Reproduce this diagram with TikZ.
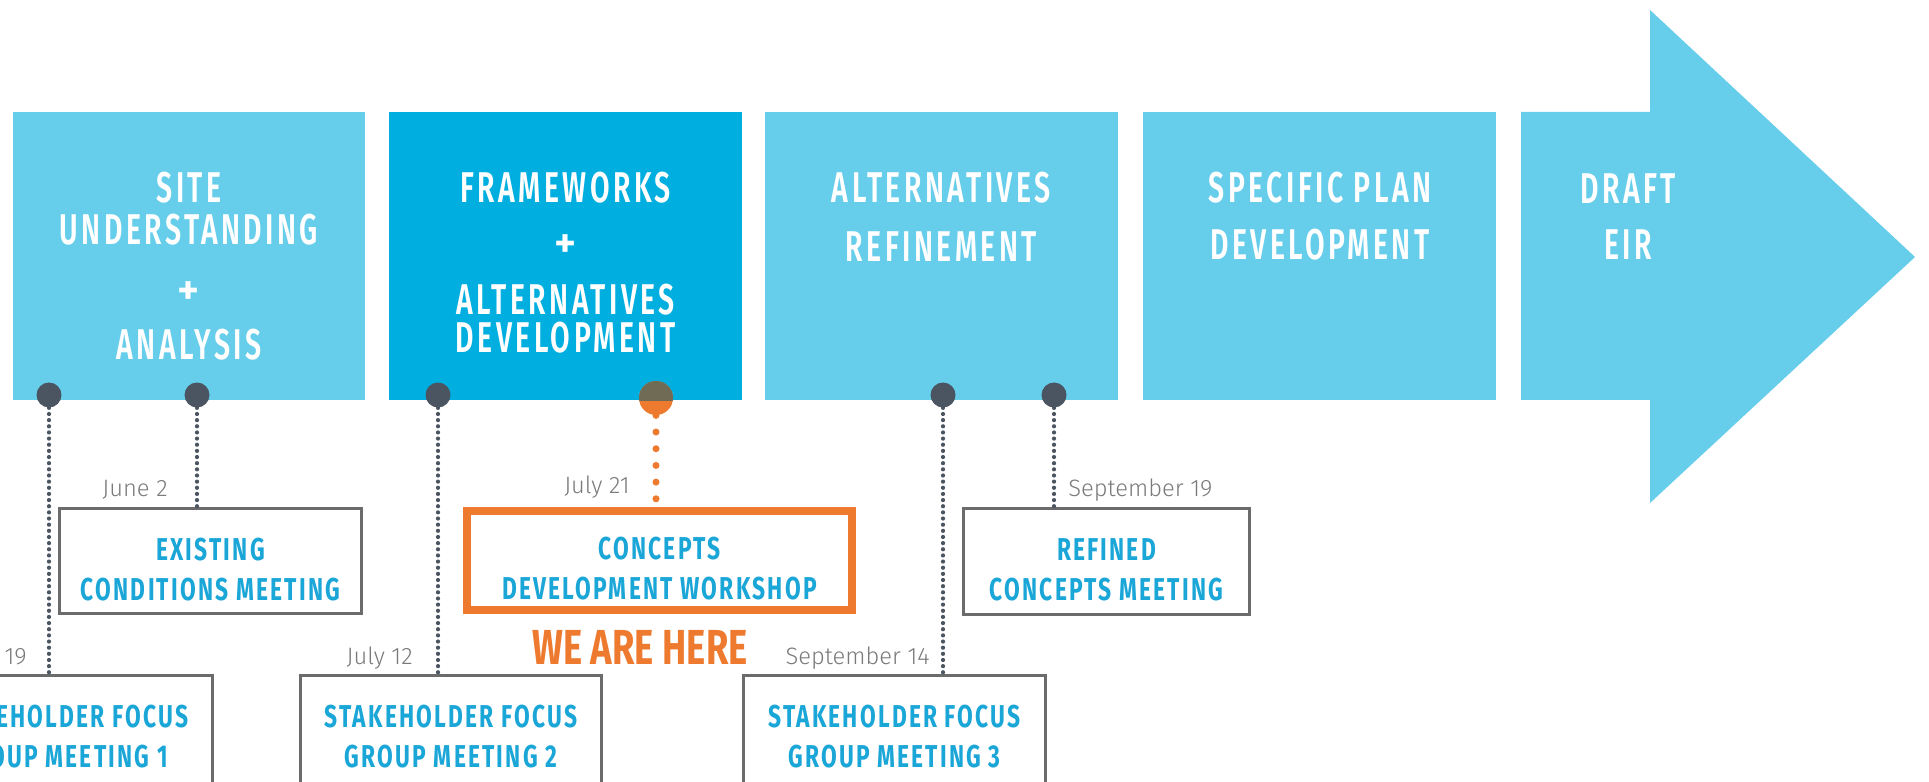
\documentclass[tikz,border=0pt]{standalone}
\usepackage{fontspec}
\setmainfont{Fira Sans}
\newfontfamily\phasefont[FakeStretch=0.66,LetterSpace=8]{Fira Sans SemiBold}
\newfontfamily\plusfont{Fira Sans SemiBold}
\newfontfamily\meetfont[FakeStretch=0.72,LetterSpace=7]{Fira Sans Bold}
\newfontfamily\herefont[FakeStretch=0.74]{Fira Sans Bold}
\newfontfamily\datefont{Fira Sans Light}
\usepackage{xcolor}
\usetikzlibrary{positioning, calc}

\definecolor{phaselight}{HTML}{66CDEB}
\definecolor{phasedark}{HTML}{00AEDF}
\definecolor{meetblue}{HTML}{1BA6D8}
\definecolor{hereorange}{HTML}{EE7A30}
\definecolor{framegrey}{HTML}{6B6B6B}
\definecolor{pingrey}{HTML}{4B5561}
\definecolor{pinover}{HTML}{6F6B55}
\definecolor{dategrey}{HTML}{7A7A7A}

% the big plus between two phase names
\newcommand{\phaseplus}{{\plusfont\fontsize{24}{22}\selectfont+}}

\begin{document}
\begin{tikzpicture}[
    x=0.02cm, y=0.02cm,
    phase/.style={fill=phaselight, minimum width=7.06cm, minimum height=5.76cm, inner sep=0pt},
    phasetxt/.style={text=white, align=center, inner sep=0pt, anchor=north, font=\phasefont\fontsize{24.5}{22}\selectfont},
    meet/.style={draw=framegrey, line width=1.7pt, fill=white, align=center, text=meetblue, inner sep=0pt, font=\meetfont\fontsize{18}{22.8}\selectfont},
    lowtxt/.style={execute at begin node={\rule{0pt}{45pt}}},
    datetxt/.style={text=dategrey, inner sep=0pt, font=\datefont\fontsize{13.5}{16}\selectfont},
    pindot/.style={circle, fill=pingrey, minimum size=0.5cm, inner sep=0pt},
    dotline/.style={draw=pingrey, line width=2.4pt, line cap=round, dash pattern=on 0pt off 3.5pt}
  ]
  \useasboundingbox (0,0) rectangle (1929,781);

  % phases
  \node[phase] (site) at (189,525) {};
  \node[phase, fill=phasedark, right=0.46cm of site] (frame) {};
  \node[phase, right=0.44cm of frame] (refine) {};
  \node[phase, right=0.5cm of refine] (plan) {};
  \fill[phaselight] (1521,669) -- (1650,669) -- (1650,771) -- (1915,524)
    -- (1650,278) -- (1650,381) -- (1521,381) -- cycle;

  \node[phasetxt] (sitetxt) at ($(site.north)+(0,-60)$) {SITE\\[1.8pt]UNDERSTANDING\\[12.5pt]\phaseplus\\[9.1pt]ANALYSIS};
  \node[phasetxt] (frametxt) at ($(frame.north)+(0,-60)$) {FRAMEWORKS\\[9.1pt]\phaseplus\\[10.8pt]ALTERNATIVES\\[-0.3pt]DEVELOPMENT};
  \node[phasetxt] (refinetxt) at ($(refine.north)+(0,-60)$) {ALTERNATIVES\\[11.4pt]REFINEMENT};
  \node[phasetxt] (plantxt) at ($(plan.north)+(0,-60)$) {SPECIFIC PLAN\\[10.2pt]DEVELOPMENT};
  \node[phasetxt] (eir) at (1628,608) {DRAFT\\[10.2pt]EIR};

  % meetings
  \node[meet, lowtxt, minimum width=6.06cm, minimum height=2.12cm] (exist) at (210.5,220) {EXISTING\\CONDITIONS MEETING};
  \node[meet, lowtxt, draw=hereorange, line width=4.5pt, minimum width=7.7cm, minimum height=1.98cm] (workshop) at (659.5,220.5) {CONCEPTS\\DEVELOPMENT WORKSHOP};
  \node[meet, lowtxt, minimum width=5.74cm, minimum height=2.14cm] (refined) at (1106.5,219.5) {REFINED\\CONCEPTS MEETING};
  \node[meet, minimum width=6.04cm, minimum height=2.48cm] (focus1) at (62,44) {STAKEHOLDER FOCUS\\GROUP MEETING 1};
  \node[meet, minimum width=6.04cm, minimum height=2.48cm] (focus2) at (451,44) {STAKEHOLDER FOCUS\\GROUP MEETING 2};
  \node[meet, minimum width=6.04cm, minimum height=2.48cm] (focus3) at (894.5,44) {STAKEHOLDER FOCUS\\GROUP MEETING 3};

  \node[text=hereorange, inner sep=0pt, font=\herefont\fontsize{28}{30}\selectfont] (here) at (640,134) {WE ARE HERE};

  % pins on the phase bar
  \node[pindot] (p1) at (49,386) {};
  \node[pindot] (p2) at (197,386) {};
  \node[pindot] (p3) at (438,386) {};
  \node[circle, fill=hereorange, minimum size=0.68cm, inner sep=0pt] (p4) at (656,383) {};
  \node[pindot] (p5) at (943,386) {};
  \node[pindot] (p6) at (1054,386) {};
  \begin{scope}
    \clip (frame.south west) rectangle (frame.north east);
    \fill[pinover] (p4.center) circle (0.34cm);
  \end{scope}

  \draw[dotline] (p1.south) -- (p1 |- focus1.north);
  \draw[dotline] (p2.south) -- (p2 |- exist.north);
  \draw[dotline] (p3.south) -- (p3 |- focus2.north);
  \draw[dotline, draw=hereorange, line width=4pt, dash pattern=on 0pt off 9.5pt] (p4.south) -- (p4 |- workshop.north);
  \draw[dotline] (p5.south) -- (p5 |- focus3.north);
  \draw[dotline] (p6.south) -- (p6 |- refined.north);

  % dates
  \node[datetxt, anchor=base east] (d1) at ($(p1 |- focus1.north)+(-22,9.5)$) {19};
  \node[datetxt, anchor=base east] (d2) at ($(p2 |- exist.north)+(-29,10.5)$) {June 2};
  \node[datetxt, anchor=base east] (d3) at ($(p3 |- focus2.north)+(-25,9.5)$) {July 12};
  \node[datetxt, anchor=base east] (d4) at ($(p4 |- workshop.north)+(-26,13.5)$) {July 21};
  \node[datetxt, anchor=base east] (d5) at ($(p5 |- focus3.north)+(-13,9.5)$) {September 14};
  \node[datetxt, anchor=base west] (d6) at ($(p6 |- refined.north)+(14,10.5)$) {September 19};
\end{tikzpicture}
\end{document}
